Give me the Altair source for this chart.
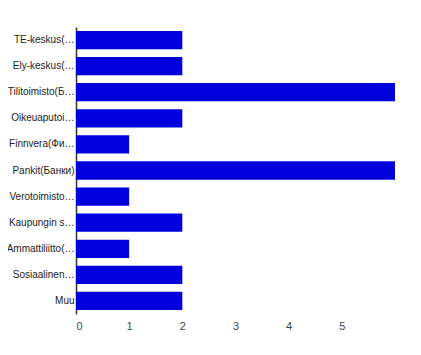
import altair as alt
import pandas as pd

categories = [
    "TE-keskus(…", "Ely-keskus(…", "Tilitoimisto(Б…", "Oikeuaputoi…",
    "Finnvera(Фи…", "Pankit(Банки)", "Verotoimisto…", "Kaupungin s…",
    "Ammattiliitto(…", "Sosiaalinen…", "Muu",
]
values = [2, 2, 6, 2, 1, 6, 1, 2, 1, 2, 2]
x_ticks = [0, 1, 2, 3, 4, 5]

df = pd.DataFrame({"category": categories, "value": values})

FONT = "Arial, 'Liberation Sans', sans-serif"

chart = alt.Chart(df).mark_bar(color="#0000dc").encode(
    x=alt.X("value:Q", scale=alt.Scale(domain=[0, 6], nice=False),
            axis=alt.Axis(values=x_ticks, title=None, grid=False, domain=False,
                          ticks=False, labelPadding=6, labelColor="#444444",
                          labelFont=FONT, labelFontSize=11,
                          format="d")),
    y=alt.Y("category:N", sort=categories,
            scale=alt.Scale(paddingInner=0.3, paddingOuter=0.15),
            axis=alt.Axis(title=None, ticks=False, domain=True, domainColor="#333333",
                          domainWidth=1.5, labelPadding=2, labelColor="#222222",
                          labelFont=FONT, labelFontSize=10,
                          labelLimit=200)),
).properties(
    width=319, height=287,
    background="white",
    autosize=alt.AutoSizeParams(type="none"),
    padding={"left": 68, "top": 19, "right": 0, "bottom": 30},
).configure_view(stroke=None)

chart.save("out.html", embed_options={"renderer": "svg", "actions": False})
